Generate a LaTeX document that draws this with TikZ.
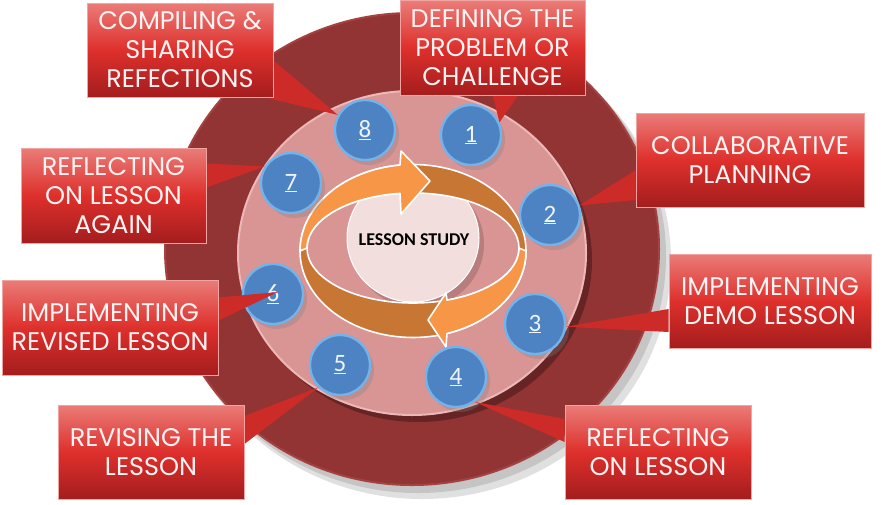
\documentclass[tikz,border=0pt]{standalone}
\usepackage{fontspec}
\newfontfamily\lblfont{Poppins}
\newfontfamily\numfont{Carlito}
\usetikzlibrary{calc,shadings,shadows}
\pgfdeclarelayer{top}
\pgfsetlayers{main,top}
\definecolor{outerred}{HTML}{933434}
\definecolor{outerrim}{HTML}{A44242}
\definecolor{ringpink}{HTML}{D99494}
\definecolor{ringrim}{HTML}{ECB8B8}
\definecolor{discpink}{HTML}{F3DEDE}
\definecolor{orlight}{HTML}{F79646}
\definecolor{ordark}{HTML}{C77634}
\definecolor{bubblue}{HTML}{4D82C3}
\definecolor{bubrim}{HTML}{74B2EA}
\definecolor{numcol}{HTML}{EEF4FB}
\definecolor{boxtop}{HTML}{EA7C78}
\definecolor{boxmid}{HTML}{DE302C}
\definecolor{boxbot}{HTML}{A41D1D}
\definecolor{boxedge}{HTML}{F2A4A2}
\definecolor{ptrred}{HTML}{CC2B28}
\definecolor{boxtext}{HTML}{FFF3F3}
\begin{document}
\begin{tikzpicture}[x=1pt,y=-1pt,
  lbl/.style={rectangle, inner sep=0pt, top color=boxtop, bottom color=boxbot, middle color=boxmid,
    draw=boxedge, line width=0.7pt, text=boxtext, align=center,
    font=\lblfont\fontsize{25.5}{29}\selectfont},
  bub/.style={circle, minimum size=60pt, inner sep=0pt, fill=bubblue, draw=bubrim, line width=2.4pt,
    text=numcol, font=\numfont\fontsize{25}{25}\selectfont,
    drop shadow={opacity=0.3, shadow xshift=4pt, shadow yshift=-5pt}},
  ptr/.style={fill=ptrred},
  oarrow/.style={fill=orlight, draw=white, line width=1.6pt, line join=round}]
\useasboundingbox (0,0) rectangle (896,504);
% outer disc with shadow
\fill[black, opacity=0.12] (422,261) ellipse [x radius=249pt, y radius=238pt];
\fill[black, opacity=0.12] (418,256) ellipse [x radius=248pt, y radius=237pt];
\fill[outerred, draw=outerrim, line width=2pt] (412,249) ellipse [x radius=247pt, y radius=236pt];
% pink ring
\fill[black, opacity=0.3] (418,260) ellipse [x radius=174pt, y radius=162pt];
\fill[ringpink, draw=ringrim, line width=2pt] (412,253) ellipse [x radius=174pt, y radius=162pt];
% inner disc
\fill[black, opacity=0.15] (418,244) ellipse [x radius=66pt, y radius=64pt];
\fill[discpink, draw=white, line width=1pt] (413,238) ellipse [x radius=66pt, y radius=64pt];
\node[font=\numfont\bfseries\fontsize{18}{20}\selectfont, text=black] (ls) at (414,240) {LESSON STUDY};
% orange band
\fill[ordark, draw=white, line width=1.6pt, even odd rule]
  (413,251) ellipse [x radius=113pt, y radius=86.5pt]
  (413,248) ellipse [x radius=106pt, y radius=55pt];
\path[oarrow] plot[domain=180:96.6, samples=40] ({413+113*cos(\x)},{251-86.5*sin(\x)})
  -- (401,151) -- (430,181) -- (401,214)
  -- plot[domain=97.05:180, samples=40] ({413+106*cos(\x)},{248-55*sin(\x)}) -- cycle;
\path[oarrow] plot[domain=0:-72.5, samples=40] ({413+113*cos(\x)},{251-86.5*sin(\x)})
  -- (446,347) -- (428,320) -- (446,293)
  -- plot[domain=-71.3:0, samples=40] ({413+106*cos(\x)},{248-55*sin(\x)}) -- cycle;
% bubbles
\node[bub] (n1) at (471,135) {\underline{1}};
\node[bub] (n2) at (550,215) {\underline{2}};
\node[bub] (n3) at (535,324) {\underline{3}};
\node[bub] (n4) at (456,377) {\underline{4}};
\node[bub] (n5) at (340,365) {\underline{5}};
\node[bub] (n6) at (273,294) {\underline{6}};
\node[bub] (n7) at (291,183) {\underline{7}};
\node[bub] (n8) at (365,130) {\underline{8}};
% label boxes on top layer
\begin{pgfonlayer}{top}
\path
  (180,50) node[lbl, minimum width=186pt, minimum height=94pt] (b1) {COMPILING \&\\SHARING\\REFECTIONS}
  (492.5,48) node[lbl, minimum width=185pt, minimum height=95pt] (b2) {DEFINING THE\\PROBLEM OR\\CHALLENGE}
  (750,160) node[lbl, minimum width=228pt, minimum height=94pt] (b3) {COLLABORATIVE\\PLANNING}
  (770,301) node[lbl, minimum width=202pt, minimum height=94pt] (b4) {IMPLEMENTING\\DEMO LESSON}
  (658,452) node[lbl, minimum width=186pt, minimum height=94pt] (b5) {REFLECTING\\ON LESSON}
  (151,452) node[lbl, minimum width=186pt, minimum height=94pt] (b6) {REVISING THE\\LESSON}
  (110,327.5) node[lbl, minimum width=216pt, minimum height=95pt] (b7) {IMPLEMENTING\\REVISED LESSON}
  (113.5,195.5) node[lbl, minimum width=185pt, minimum height=95pt] (b8) {REFLECTING\\ON LESSON\\AGAIN};
\end{pgfonlayer}
% pointers
\fill[ptr] ($(b1.south east)+(-8,0)$) -- ($(b1.south east)+(0,-37)$) -- (n8.151) -- cycle;
\fill[ptr] ($(b2.south)+(0,-1)$) -- ($(b2.south)+(26,-1)$) -- (n1.24) -- cycle;
\fill[ptr] ($(b3.west)+(0,10)$) -- ($(b3.west)+(0,40)$) -- (n2.18) -- cycle;
\fill[ptr] ($(b4.west)+(0,8)$) -- ($(b4.west)+(0,31)$) -- (n3.-5) -- cycle;
\fill[ptr] ($(b5.west)+(0,-33)$) -- ($(b5.west)+(0,-10)$) -- (n4.-53) -- cycle;
\fill[ptr] ($(b6.east)+(0,-36)$) -- ($(b6.east)+(0,-8)$) -- (n5.-134) -- cycle;
\fill[ptr] ($(b7.east)+(0,-30)$) -- ($(b7.east)+(0,-7)$) -- ($(n6)+(5,-2)$) -- cycle;
\fill[ptr] ($(b8.east)+(0,-32)$) -- ($(b8.east)+(0,-8)$) -- (n7.148) -- cycle;
\end{tikzpicture}
\end{document}
